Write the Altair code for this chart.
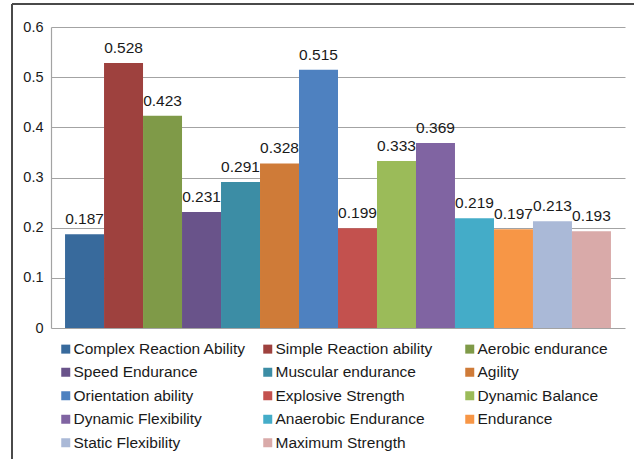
import altair as alt
import pandas as pd

# Motor abilities and their weights
categories = [
    "Complex Reaction Ability", "Simple Reaction ability", "Aerobic endurance",
    "Speed Endurance", "Muscular endurance", "Agility",
    "Orientation ability", "Explosive Strength", "Dynamic Balance",
    "Dynamic Flexibility", "Anaerobic Endurance", "Endurance",
    "Static Flexibility", "Maximum Strength",
]
values = [0.187, 0.528, 0.423, 0.231, 0.291, 0.328, 0.515,
          0.199, 0.333, 0.369, 0.219, 0.197, 0.213, 0.193]
colors = [
    "#386A9C", "#9E413E", "#7F9A48", "#69538A", "#3C8DA5", "#CF7B38",
    "#4E81C0", "#C3514E", "#9BBB59", "#8064A2", "#44ACC8", "#F79646",
    "#AAB9D7", "#D9AAA9",
]
y_ticks = [0, 0.1, 0.2, 0.3, 0.4, 0.5, 0.6]

df = pd.DataFrame({"ability": categories, "value": values})

# The legend fills its grid column by column; order the entries so that
# the categories read across the rows, three per row.
n_cols = 3
n_rows = -(-len(categories) // n_cols)
legend_order = [categories[r * n_cols + c]
                for c in range(n_cols) for r in range(n_rows)
                if r * n_cols + c < len(categories)]
legend_colors = [colors[categories.index(name)] for name in legend_order]

FONT = "Liberation Sans"
GRID = "#A3A3A3"
INK = "#1A1A1A"

x_enc = alt.X("ability:N", sort=categories, axis=None,
              scale=alt.Scale(paddingInner=0, paddingOuter=0.36))
y_enc = alt.Y(
    "value:Q",
    scale=alt.Scale(domain=[0, 0.6], nice=False),
    axis=alt.Axis(
        title=None, values=y_ticks, format="~g", ticks=False, tickSize=0,
        labelPadding=8, labelFont=FONT, labelFontSize=14.5, labelColor=INK,
        domainColor=GRID, domainWidth=1.2, gridColor=GRID, gridWidth=1.2,
    ),
)

bars = alt.Chart(df).mark_bar().encode(
    x=x_enc,
    y=y_enc,
    color=alt.Color(
        "ability:N",
        scale=alt.Scale(domain=legend_order, range=legend_colors),
        legend=alt.Legend(
            title=None, orient="none", legendX=7, legendY=314,
            columns=n_cols, gridAlign="all", columnPadding=14, rowPadding=6.5,
            symbolType="square", symbolSize=81, symbolStrokeWidth=0,
            labelFont=FONT, labelFontSize=15.5, labelColor=INK,
            labelOffset=0, padding=0, labelLimit=300,
        ),
    ),
)

labels = alt.Chart(df).mark_text(
    dy=-10, baseline="alphabetic", font=FONT, fontSize=15.5, color=INK
).encode(
    x=x_enc,
    y=alt.Y("value:Q"),
    text=alt.Text("value:Q", format=".3f"),
)

# Outer frame (top and left edges of the chart border)
frame_data = alt.Data(values=[{}])
frame_top = alt.Chart(frame_data).mark_rule(color="#4A4A4A", strokeWidth=2).encode(
    x=alt.value(-39), x2=alt.value(700), y=alt.value(-23)
)
frame_left = alt.Chart(frame_data).mark_rule(color="#4A4A4A", strokeWidth=2).encode(
    x=alt.value(-39), y=alt.value(-23), y2=alt.value(500)
)

chart = (
    alt.layer(bars, labels, frame_top, frame_left)
    .properties(
        width=574, height=301,
        autosize=alt.AutoSizeParams(type="none"),
        padding={"left": 51, "top": 27, "right": 9, "bottom": 131},
    )
    .configure_view(stroke=None)
)

chart.save("out.html", embed_options={"renderer": "svg", "actions": False})
